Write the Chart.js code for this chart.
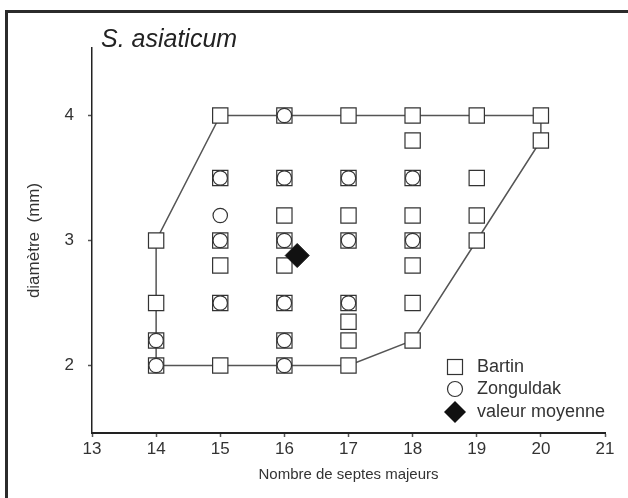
<!DOCTYPE html>
<html>
<head>
<meta charset="utf-8">
<script src="https://cdn.jsdelivr.net/npm/chart.js@4"></script>
<style>
  html, body { margin: 0; padding: 0; background: #fff; }
  #wrap { width: 628px; height: 498px; }
</style>
</head>
<body>
<div id="wrap"><canvas id="graphe"></canvas></div>
<script>
// Bartin (carrés)
const bartinSeptes = [14,14,14,14, 15,15,15,15,15,15, 16,16,16,16,16,16,16,16, 17,17,17,17,17,17,17,17, 18,18,18,18,18,18,18,18, 19,19,19,19, 20,20];
const bartinDiam   = [3,2.5,2.2,2, 4,3.5,3,2.8,2.5,2, 4,3.5,3.2,3,2.8,2.5,2.2,2, 4,3.5,3.2,3,2.5,2.35,2.2,2, 4,3.8,3.5,3.2,3,2.8,2.5,2.2, 4,3.5,3.2,3, 4,3.8];
// Zonguldak (cercles)
const zongSeptes = [14,14, 15,15,15,15, 16,16,16,16,16,16, 17,17,17, 18,18];
const zongDiam   = [2.2,2, 3.5,3.2,3,2.5, 4,3.5,3,2.5,2.2,2, 3.5,3,2.5, 3.5,3];
// valeur moyenne
const moyenneSeptes = [16.2];
const moyenneDiam = [2.88];
// contour
const contourSeptes = [14,14,15,20,20,19,18,17,14];
const contourDiam   = [2,3,4,4,3.8,3,2.2,2,2];
// graduations
const xTicks = [13,14,15,16,17,18,19,20,21];
const yTicks = [2,3,4];

const pts = (xs, ys) => xs.map((x, i) => ({x: x, y: ys[i]}));
const font = "'Liberation Sans', Arial, sans-serif";

const decor = {
  id: 'decor',
  afterDraw(chart) {
    const c = chart.ctx;
    c.save();
    // cadre
    c.fillStyle = '#2b2b2b';
    c.fillRect(5, 10, 623, 3);
    c.fillRect(5, 10, 3, 488);
    // titre
    c.fillStyle = '#222';
    c.font = 'italic 25px ' + font;
    c.textBaseline = 'alphabetic';
    c.fillText('S. asiaticum', 101, 47);
    // légende
    const lx = 455, ly = [367, 389, 412];
    c.strokeStyle = '#333';
    c.lineWidth = 1.2;
    c.fillStyle = '#fff';
    c.fillRect(lx - 7.5, ly[0] - 7.5, 15, 15);
    c.strokeRect(lx - 7.5, ly[0] - 7.5, 15, 15);
    c.beginPath();
    c.arc(lx, ly[1], 7.5, 0, Math.PI * 2);
    c.fill(); c.stroke();
    c.fillStyle = '#111';
    c.beginPath();
    c.moveTo(lx, ly[2] - 11); c.lineTo(lx + 11, ly[2]);
    c.lineTo(lx, ly[2] + 11); c.lineTo(lx - 11, ly[2]);
    c.closePath(); c.fill();
    c.fillStyle = '#333';
    c.font = '18px ' + font;
    c.textBaseline = 'middle';
    c.fillText('Bartin', 477, ly[0]);
    c.fillText('Zonguldak', 477, ly[1]);
    c.fillText('valeur moyenne', 477, ly[2]);
    c.restore();
  }
};

new Chart(document.getElementById('graphe'), {
  type: 'scatter',
  data: {
    datasets: [
      {
        label: 'contour',
        data: pts(contourSeptes, contourDiam),
        showLine: true,
        borderColor: '#555',
        borderWidth: 1.5,
        pointRadius: 0,
        order: 4
      },
      {
        label: 'Bartin',
        data: pts(bartinSeptes, bartinDiam),
        pointStyle: 'rect',
        pointRadius: 10.8,
        backgroundColor: '#fff',
        borderColor: '#333',
        borderWidth: 1.2,
        order: 3
      },
      {
        label: 'Zonguldak',
        data: pts(zongSeptes, zongDiam),
        pointStyle: 'circle',
        pointRadius: 7.2,
        backgroundColor: '#fff',
        borderColor: '#333',
        borderWidth: 1.2,
        order: 2
      },
      {
        label: 'valeur moyenne',
        data: pts(moyenneSeptes, moyenneDiam),
        pointStyle: 'rectRot',
        pointRadius: 12,
        backgroundColor: '#111',
        borderColor: '#111',
        borderWidth: 1,
        order: 1
      }
    ]
  },
  options: {
    responsive: true,
    maintainAspectRatio: false,
    animation: false,
    events: [],
    layout: { padding: { top: 48, right: 23, left: 10, bottom: 10 } },
    plugins: {
      legend: { display: false },
      tooltip: { enabled: false }
    },
    scales: {
      x: {
        type: 'linear',
        min: 13, max: 21,
        afterBuildTicks: s => { s.ticks = xTicks.map(v => ({value: v})); },
        afterFit: s => { s.height = 55; },
        grid: { drawOnChartArea: false, tickLength: 4, tickColor: '#555', tickWidth: 1.5 },
        border: { color: '#222', width: 2 },
        ticks: { color: '#333', font: { family: font, size: 17 }, padding: 2 },
        title: { display: true, text: 'Nombre de septes majeurs', color: '#333', font: { family: font, size: 15 }, padding: { top: 0 } }
      },
      y: {
        type: 'linear',
        min: 1.46, max: 4.54,
        afterBuildTicks: s => { s.ticks = yTicks.map(v => ({value: v})); },
        afterFit: s => { s.width = 82; },
        grid: { drawOnChartArea: false, tickLength: 4, tickColor: '#555', tickWidth: 1.5 },
        border: { color: '#222', width: 1.5 },
        ticks: { color: '#333', font: { family: font, size: 17 }, padding: 14 },
        title: { display: true, text: 'diamètre  (mm)', color: '#333', font: { family: font, size: 17 }, padding: { top: 14, bottom: 0 } }
      }
    }
  },
  plugins: [decor]
});
</script>
</body>
</html>
